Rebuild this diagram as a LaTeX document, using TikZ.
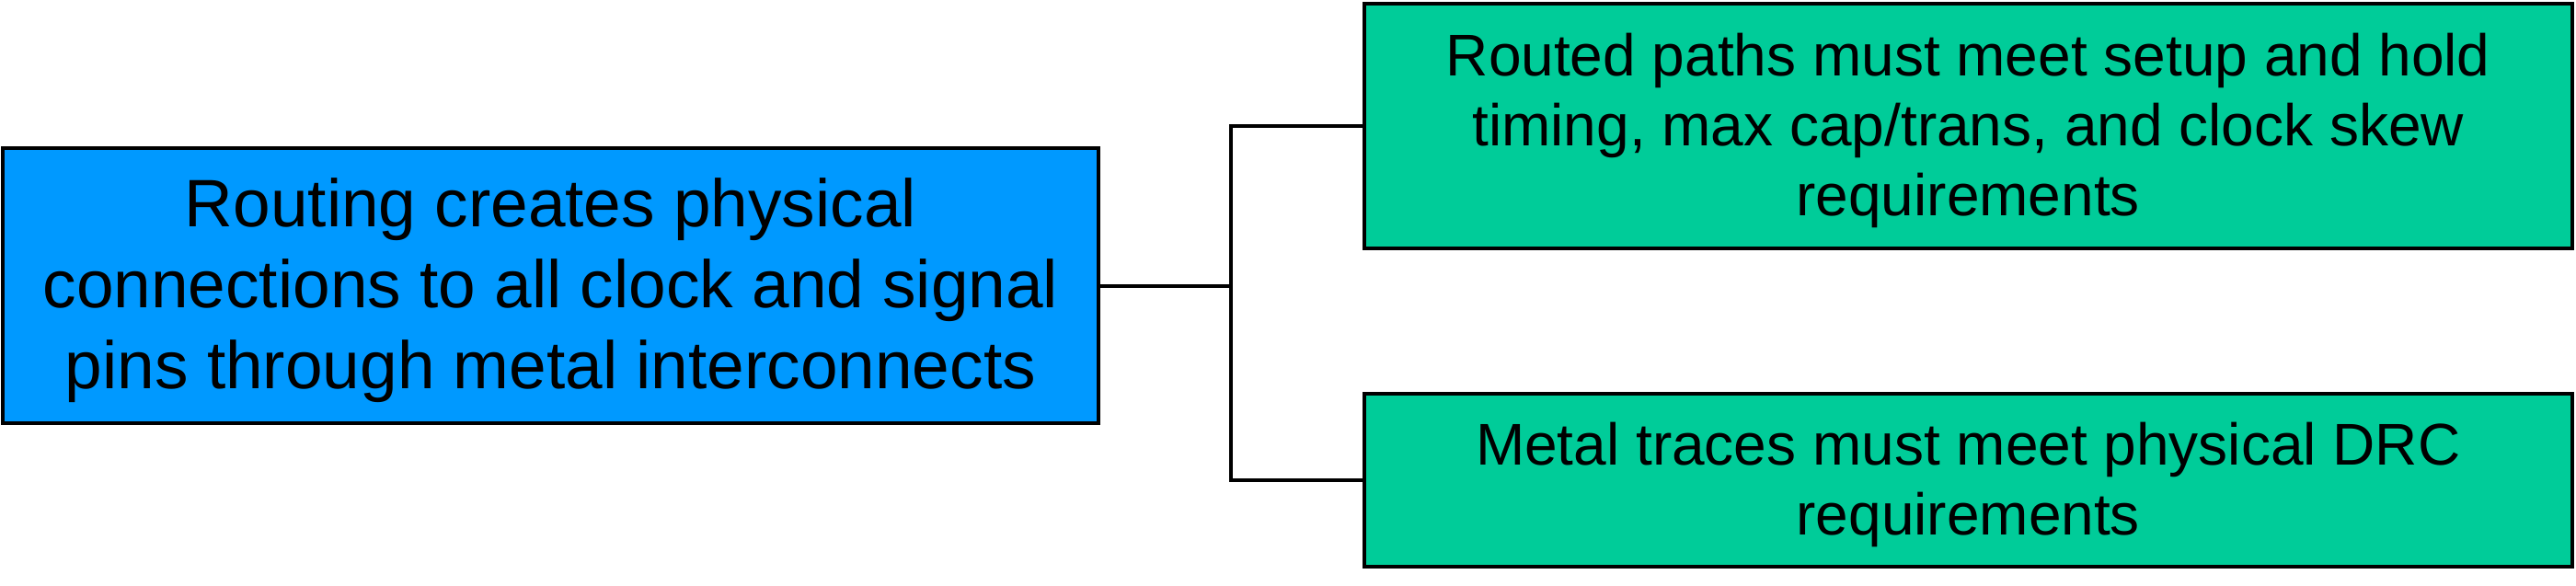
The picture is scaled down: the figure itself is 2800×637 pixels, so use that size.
\documentclass[tikz,border=0pt]{standalone}
\usepackage{fontspec}
\setmainfont{Liberation Sans}
\definecolor{rootblue}{HTML}{0099FF}
\definecolor{leafgreen}{HTML}{00CC99}
\newcommand{\rootstrut}{\rule{0pt}{63pt}}
\newcommand{\leafstrut}{\rule{0pt}{57pt}}
\tikzset{
  box/.style={draw=black, line width=4pt, rectangle, inner sep=0pt, outer sep=0pt, align=center, text=black},
  rootbox/.style={box, fill=rootblue, font=\fontsize{73}{88}\selectfont},
  leafbox/.style={box, fill=leafgreen, font=\fontsize{64}{76}\selectfont},
  link/.style={draw=black, line width=4pt}
}
\begin{document}
\begin{tikzpicture}[x=1pt,y=-1pt]
\useasboundingbox (0,0) rectangle (2800,637);
\node[rootbox, minimum width=1191pt, minimum height=299pt] (root) at (598.5,310.5)
  {\rootstrut Routing creates physical\\connections to all clock and signal\\pins through metal interconnects};
\node[leafbox, minimum width=1313.5pt, minimum height=266pt] (a) at (2139.25,137)
  {\leafstrut Routed paths must meet setup and hold\\timing, max cap/trans, and clock skew\\requirements};
\node[leafbox, minimum width=1313.5pt, minimum height=188pt] (b) at (2139.25,522)
  {\leafstrut Metal traces must meet physical DRC\\requirements};
\coordinate (j) at (1338,310.5);
\draw[link] (root.east) -- (j);
\draw[link] (j) |- (a.west);
\draw[link] (j) |- (b.west);
\end{tikzpicture}
\end{document}
